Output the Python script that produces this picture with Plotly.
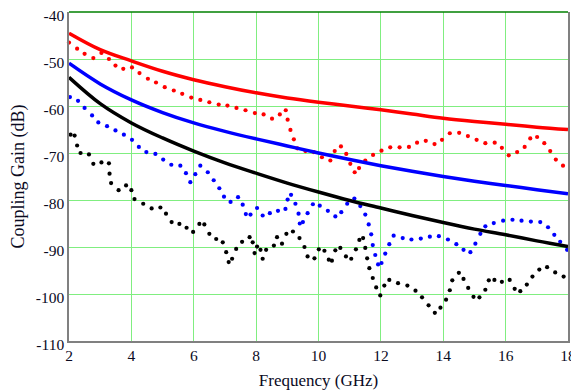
import plotly.graph_objects as go

# Solid curves (read at each GHz)
freq_solid = [2, 3, 4, 5, 6, 7, 8, 9, 10, 11, 12, 13, 14, 15, 16, 17, 18]
red_solid = [-44.5, -48.0, -50.4, -52.6, -54.4, -55.9, -57.2, -58.3, -59.2, -60.0,
             -60.8, -61.7, -62.6, -63.3, -63.9, -64.5, -65.0]
blue_solid = [-50.9, -55.3, -58.7, -61.4, -63.6, -65.4, -67.0, -68.5, -70.0, -71.4,
              -72.7, -73.9, -75.0, -76.0, -76.9, -77.8, -78.7]
black_solid = [-53.9, -59.5, -63.6, -66.8, -69.6, -72.1, -74.3, -76.4, -78.3, -80.1,
               -81.7, -83.3, -84.8, -86.2, -87.4, -88.7, -89.9]

# Dotted (measured) curves
red_dot_f = [2.0, 2.26, 2.5, 2.78, 3.04, 3.28, 3.49, 3.74, 4.02, 4.26, 4.53, 4.79, 5.07, 5.36,
             5.63, 5.92, 6.21, 6.5, 6.8, 7.08, 7.37, 7.66, 7.96, 8.24, 8.51, 8.76, 8.95, 9.01,
             9.1, 9.21, 9.32, 9.58, 9.85, 10.11, 10.38, 10.52, 10.72, 10.89, 11.02, 11.16,
             11.3, 11.5, 11.75, 12.02, 12.3, 12.6, 12.9, 13.16, 13.44, 13.72, 13.96, 14.21,
             14.51, 14.79, 15.07, 15.35, 15.65, 15.88, 16.1, 16.37, 16.61, 16.79, 17.01,
             17.24, 17.43, 17.61, 17.84]
red_dot_db = [-46.5, -47.8, -48.9, -49.8, -48.7, -50.0, -51.4, -52.1, -51.8, -53.0, -54.2,
              -55.0, -56.0, -56.7, -57.4, -58.2, -58.7, -59.2, -59.7, -59.9, -60.4, -60.9,
              -61.5, -61.8, -62.7, -61.8, -60.9, -62.9, -65.1, -67.1, -69.0, -69.6, -69.8,
              -70.9, -71.6, -69.6, -68.6, -70.2, -72.3, -74.1, -73.2, -71.6, -70.4, -69.5,
              -68.8, -68.8, -68.7, -67.8, -67.4, -68.1, -67.2, -65.8, -65.7, -66.4, -67.2,
              -67.9, -67.8, -68.9, -70.5, -69.8, -68.7, -66.9, -66.6, -67.9, -69.6, -71.4,
              -72.7]

blue_dot_f = [2.03, 2.29, 2.5, 2.74, 2.94, 3.22, 3.49, 3.76, 4.02, 4.24, 4.48, 4.77, 5.02,
              5.28, 5.57, 5.75, 5.89, 6.05, 6.21, 6.45, 6.64, 6.82, 6.97, 7.18, 7.42, 7.57,
              7.67, 7.82, 8.03, 8.21, 8.44, 8.7, 8.94, 9.01, 9.12, 9.26, 9.36, 9.4, 9.5,
              9.65, 9.82, 10.04, 10.3, 10.54, 10.73, 10.92, 11.15, 11.34, 11.5, 11.61,
              11.69, 11.74, 11.82, 11.91, 12.02, 12.14, 12.27, 12.41, 12.7, 12.98, 13.28,
              13.57, 13.86, 14.15, 14.42, 14.65, 14.87, 15.03, 15.19, 15.35, 15.62, 15.92,
              16.22, 16.51, 16.81, 17.11, 17.36, 17.56, 17.75, 17.97]
blue_dot_db = [-58.1, -58.9, -60.4, -62.0, -63.5, -64.3, -65.2, -66.1, -67.2, -68.7, -69.8,
               -70.2, -71.4, -72.5, -72.7, -74.3, -76.2, -74.5, -72.7, -74.1, -75.8, -77.5,
               -79.3, -80.4, -79.4, -81.0, -83.0, -83.1, -81.7, -83.3, -82.8, -82.3, -81.9,
               -79.9, -78.9, -80.8, -82.9, -85.0, -84.7, -82.8, -80.9, -81.2, -82.3, -83.5,
               -82.6, -80.8, -79.7, -81.3, -83.1, -85.2, -87.3, -89.6, -91.7, -93.7, -93.4,
               -91.4, -89.4, -87.6, -88.1, -88.4, -88.2, -87.8, -87.7, -88.4, -89.4, -90.6,
               -91.1, -89.3, -87.2, -85.6, -84.9, -84.4, -84.2, -84.4, -84.6, -84.7, -85.8,
               -87.4, -88.9, -90.6]

black_dot_f = [2.05, 2.18, 2.26, 2.37, 2.64, 2.78, 3.04, 3.28, 3.3, 3.35, 3.59, 3.83, 4.0,
               4.1, 4.38, 4.65, 4.93, 5.11, 5.29, 5.54, 5.77, 5.98, 6.18, 6.34, 6.5, 6.72,
               6.93, 7.04, 7.12, 7.23, 7.36, 7.55, 7.79, 7.89, 7.95, 8.03, 8.14, 8.21, 8.32,
               8.57, 8.67, 8.83, 8.97, 9.18, 9.39, 9.55, 9.65, 9.87, 10.01, 10.19, 10.33,
               10.43, 10.54, 10.7, 10.88, 11.05, 11.2, 11.31, 11.43, 11.5, 11.56, 11.63,
               11.74, 11.85, 11.98, 12.11, 12.27, 12.55, 12.85, 13.11, 13.32, 13.53, 13.73,
               13.91, 14.09, 14.21, 14.29, 14.5, 14.65, 14.8, 14.97, 15.16, 15.35, 15.46,
               15.64, 15.88, 16.13, 16.29, 16.47, 16.68, 16.86, 17.08, 17.33, 17.59, 17.86]
black_dot_db = [-66.1, -66.3, -68.4, -70.0, -70.3, -72.3, -72.0, -72.2, -74.4, -76.4, -77.9,
                -76.9, -77.9, -79.8, -80.8, -81.8, -81.6, -82.9, -84.7, -85.1, -85.9, -86.8,
                -85.1, -85.2, -87.2, -88.3, -89.0, -91.1, -93.2, -92.5, -90.4, -88.9, -87.9,
                -89.0, -91.3, -89.9, -90.6, -92.5, -90.6, -89.7, -87.9, -89.3, -87.2, -86.7,
                -88.1, -90.0, -92.0, -92.4, -90.5, -90.8, -92.7, -92.9, -90.7, -90.2, -92.0,
                -92.5, -90.5, -88.5, -88.1, -90.2, -92.4, -94.5, -96.6, -98.6, -100.3, -98.2,
                -97.0, -97.7, -98.2, -99.3, -100.7, -102.4, -104.0, -102.9, -101.2, -99.2,
                -97.1, -95.5, -96.8, -98.7, -100.6, -100.7, -99.1, -97.1, -97.0, -97.4, -97.0,
                -98.9, -99.4, -98.0, -96.3, -94.8, -94.3, -95.4, -96.3]

x_ticks = [2, 4, 6, 8, 10, 12, 14, 16, 18]
y_ticks = [-110, -100, -90, -80, -70, -60, -50, -40]
y_tick_text = ["-110", "-100", "-90", "-80", "-70", "-60", "-50", "-40"]

FONT = "Liberation Serif, Times New Roman, serif"
TXT = "#0a0a1e"

fig = go.Figure()
for f, v, c in [(red_dot_f, red_dot_db, "#ff0000"),
                (blue_dot_f, blue_dot_db, "#0000ff"),
                (black_dot_f, black_dot_db, "#000000")]:
    fig.add_trace(go.Scatter(x=f, y=v, mode="markers",
                             marker=dict(color=c, size=4.2, line=dict(width=0)),
                             showlegend=False, cliponaxis=False))
for v, c in [(red_solid, "#ff0000"), (blue_solid, "#0000ff"), (black_solid, "#000000")]:
    fig.add_trace(go.Scatter(x=freq_solid, y=v, mode="lines",
                             line=dict(color=c, width=3.5, shape="spline"),
                             showlegend=False))

fig.add_shape(type="line", xref="paper", yref="paper", x0=0, x1=1, y0=1, y1=1,
              line=dict(color="#008000", width=1.5))

# The page body adds an 8px offset, so the figure is sized to fill the rest of the window.
fig.update_layout(
    width=571, height=382,
    margin=dict(l=60.5, r=11, t=4.3, b=48.5),
    paper_bgcolor="white", plot_bgcolor="white",
    font=dict(family=FONT, size=15, color=TXT),
    xaxis=dict(range=[2, 18], tickvals=x_ticks, ticktext=[str(t) for t in x_ticks],
               showgrid=True, gridcolor="#80ee80", gridwidth=1, zeroline=False,
               showline=True, linecolor="#808080", linewidth=1.5, ticks="",
               automargin=False, ticklabeloverflow="allow",
               tickfont=dict(family=FONT, size=15.5, color=TXT),
               title=dict(text="Frequency (GHz)", font=dict(family=FONT, size=17, color=TXT),
                          standoff=12)),
    yaxis=dict(range=[-110, -40], tickvals=y_ticks, ticktext=y_tick_text,
               showgrid=True, gridcolor="#80ee80", gridwidth=1, zeroline=False,
               showline=True, linecolor="#808080", linewidth=1.5, mirror=True, ticks="",
               automargin=False, ticklabeloverflow="allow", ticklabelshift=4,
               tickfont=dict(family=FONT, size=15.5, color=TXT),
               title=dict(text="Coupling Gain (dB)", font=dict(family=FONT, size=18, color=TXT),
                          standoff=13)),
)

fig.write_html("out.html")
